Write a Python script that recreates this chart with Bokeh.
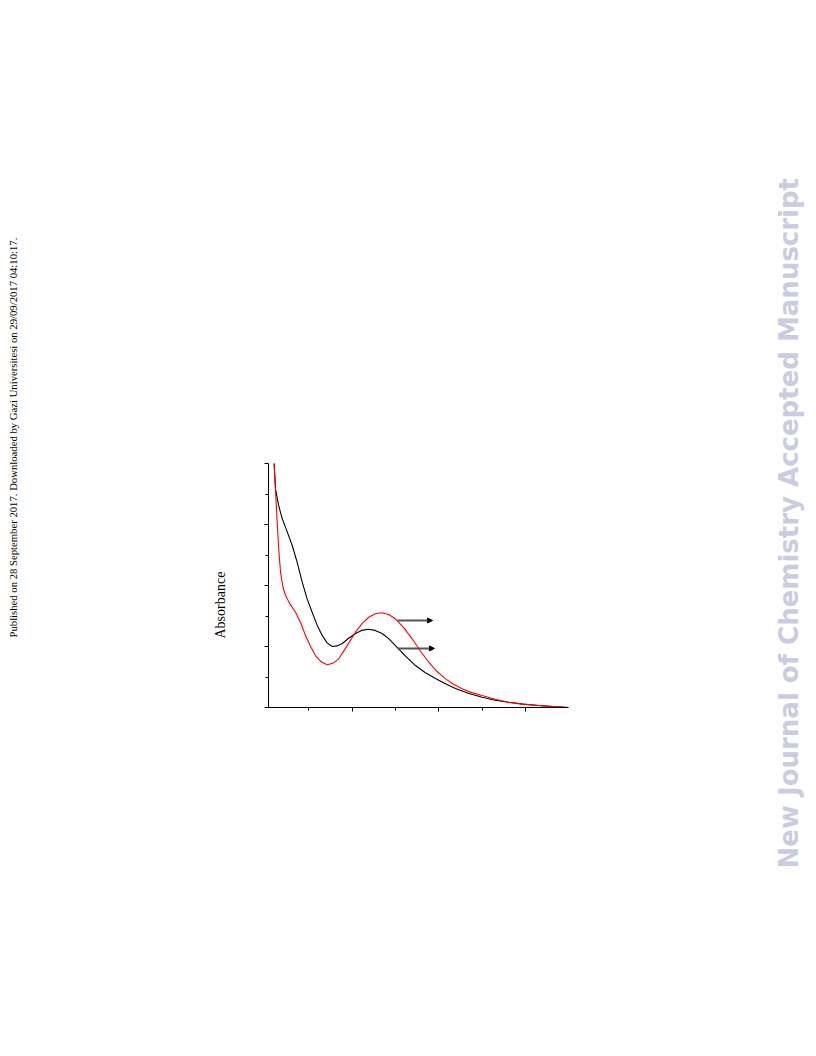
import math
from bokeh.plotting import figure
from bokeh.layouts import row
from bokeh.models import Range1d, FixedTicker, Arrow, NormalHead, Title
from bokeh.embed import file_html
from bokeh.resources import INLINE

# ---- data ----
black_x = [209.2, 210.0, 211.5, 215.1, 219.2, 224.5, 230.8, 236.5, 242.3, 248.0, 253.8, 259.5,
           265.4, 271.0, 276.9, 282.5, 288.5, 296.0, 303.8, 311.0, 318.8, 326.5, 334.6, 342.0,
           350.0, 361.0, 373.1, 384.5, 396.2, 407.5, 419.2, 434.0, 450.0, 465.0, 480.4, 497.0,
           515.0, 532.0, 549.7]
black_y = [2.11, 1.99, 1.79, 1.656, 1.549, 1.45, 1.328, 1.19, 1.027, 0.89, 0.781, 0.675,
           0.590, 0.530, 0.500, 0.505, 0.525, 0.568, 0.607, 0.632, 0.642, 0.632, 0.607, 0.565,
           0.508, 0.425, 0.344, 0.285, 0.238, 0.194, 0.156, 0.117, 0.084, 0.060, 0.043, 0.028,
           0.016, 0.007, 0.0]

red_x = [209.4, 209.9, 211.0, 212.2, 213.4, 215.2, 217.3, 220.0, 223.0, 228.5, 234.6, 240.5,
         246.1, 252.0, 257.6, 264.5, 271.2, 277.5, 284.5, 294.0, 303.8, 311.5, 319.2, 326.5,
         334.6, 342.0, 350.0, 359.5, 369.2, 378.5, 388.4, 398.0, 407.7, 417.0, 426.9, 438.0,
         450.0, 465.0, 480.7, 497.0, 515.3, 532.0, 549.7]
red_y = [2.11, 1.99, 1.85, 1.68, 1.519, 1.30, 1.109, 0.99, 0.918, 0.845, 0.781, 0.695,
         0.590, 0.500, 0.426, 0.372, 0.350, 0.362, 0.399, 0.505, 0.617, 0.690, 0.740, 0.768,
         0.776, 0.762, 0.727, 0.655, 0.563, 0.465, 0.371, 0.295, 0.235, 0.190, 0.153, 0.122,
         0.098, 0.068, 0.043, 0.028, 0.016, 0.007, 0.0]

# arrows (start x, end x, level y)
arrow_x0 = [352.3, 352.3]
arrow_x1 = [392.7, 394.9]
arrow_y = [0.713, 0.484]

x_major = [300, 400, 500]
x_minor = [250, 350, 450, 550]
y_major = [0.0, 0.5, 1.0, 1.5, 2.0]
y_minor = [0.25, 0.75, 1.25, 1.75]

ylabel = "Absorbance"
side_note = "Published on 28 September 2017. Downloaded by Gazi Universitesi on 29/09/2017 04:10:17."
watermark = "New Journal of Chemistry Accepted Manuscript"

H = 1044
FRAME_BOTTOM = 707


def strip(width, border_left, text, font, size, color, start_y, bold=False):
    f = figure(width=width, height=H, output_backend="svg", toolbar_location=None,
               x_axis_location=None, y_axis_location=None,
               x_range=Range1d(0, 1), y_range=Range1d(0, 1),
               min_border_left=border_left, min_border_right=0,
               min_border_top=0, min_border_bottom=0)
    f.grid.visible = False
    f.outline_line_color = None
    f.background_fill_color = "white"
    f.border_fill_color = "white"
    f.add_layout(Title(text=text, align="left", vertical_align="middle",
                       offset=FRAME_BOTTOM - start_y, standoff=0,
                       text_font=font, text_font_size=size,
                       text_font_style="bold" if bold else "normal",
                       text_color=color), "left")
    return f


s1 = strip(30, 19, side_note, "Liberation Serif", "10.7px", "black", 637)
s2 = strip(220, 198, ylabel, "Liberation Serif", "14px", "black", 638)

# ---- main chart ----
p = figure(width=520, height=H, output_backend="svg", toolbar_location=None,
           x_range=Range1d(203.4, 549.7), y_range=Range1d(0, 2.0),
           min_border_left=18, min_border_right=202, min_border_top=463,
           min_border_bottom=H - FRAME_BOTTOM)
p.outline_line_color = None
p.xgrid.visible = False
p.ygrid.visible = False
p.background_fill_color = "white"
p.border_fill_color = "white"

p.xaxis.ticker = FixedTicker(ticks=x_major, minor_ticks=x_minor)
p.yaxis.ticker = FixedTicker(ticks=y_major, minor_ticks=y_minor)
p.xaxis.major_label_overrides = {t: "" for t in x_major}
p.yaxis.major_label_overrides = {t: "" for t in y_major}
for ax in (p.xaxis, p.yaxis):
    ax.axis_line_color = "black"
    ax.axis_line_width = 1
    ax.major_tick_line_color = "black"
    ax.minor_tick_line_color = "black"
    ax.major_tick_in = 0
    ax.minor_tick_in = 0
    ax.major_tick_out = 4
    ax.minor_tick_out = 3
    ax.major_label_text_font_size = "1px"
    ax.major_label_standoff = 1

p.line(black_x, black_y, line_color="black", line_width=1.1)
p.line(red_x, red_y, line_color="#ff0000", line_width=1.1)

for x0, x1, y in zip(arrow_x0, arrow_x1, arrow_y):
    p.add_layout(Arrow(end=NormalHead(size=5, fill_color="black", line_color="black"),
                       x_start=x0, y_start=y, x_end=x1, y_end=y,
                       line_color="#555555", line_width=2))

s3 = strip(46, 34, watermark, "DejaVu Sans", "26px", "#cbcbe2", 868, bold=True)

layout = row(s1, s2, p, s3)
open("out.html", "w").write(file_html(layout, INLINE))
